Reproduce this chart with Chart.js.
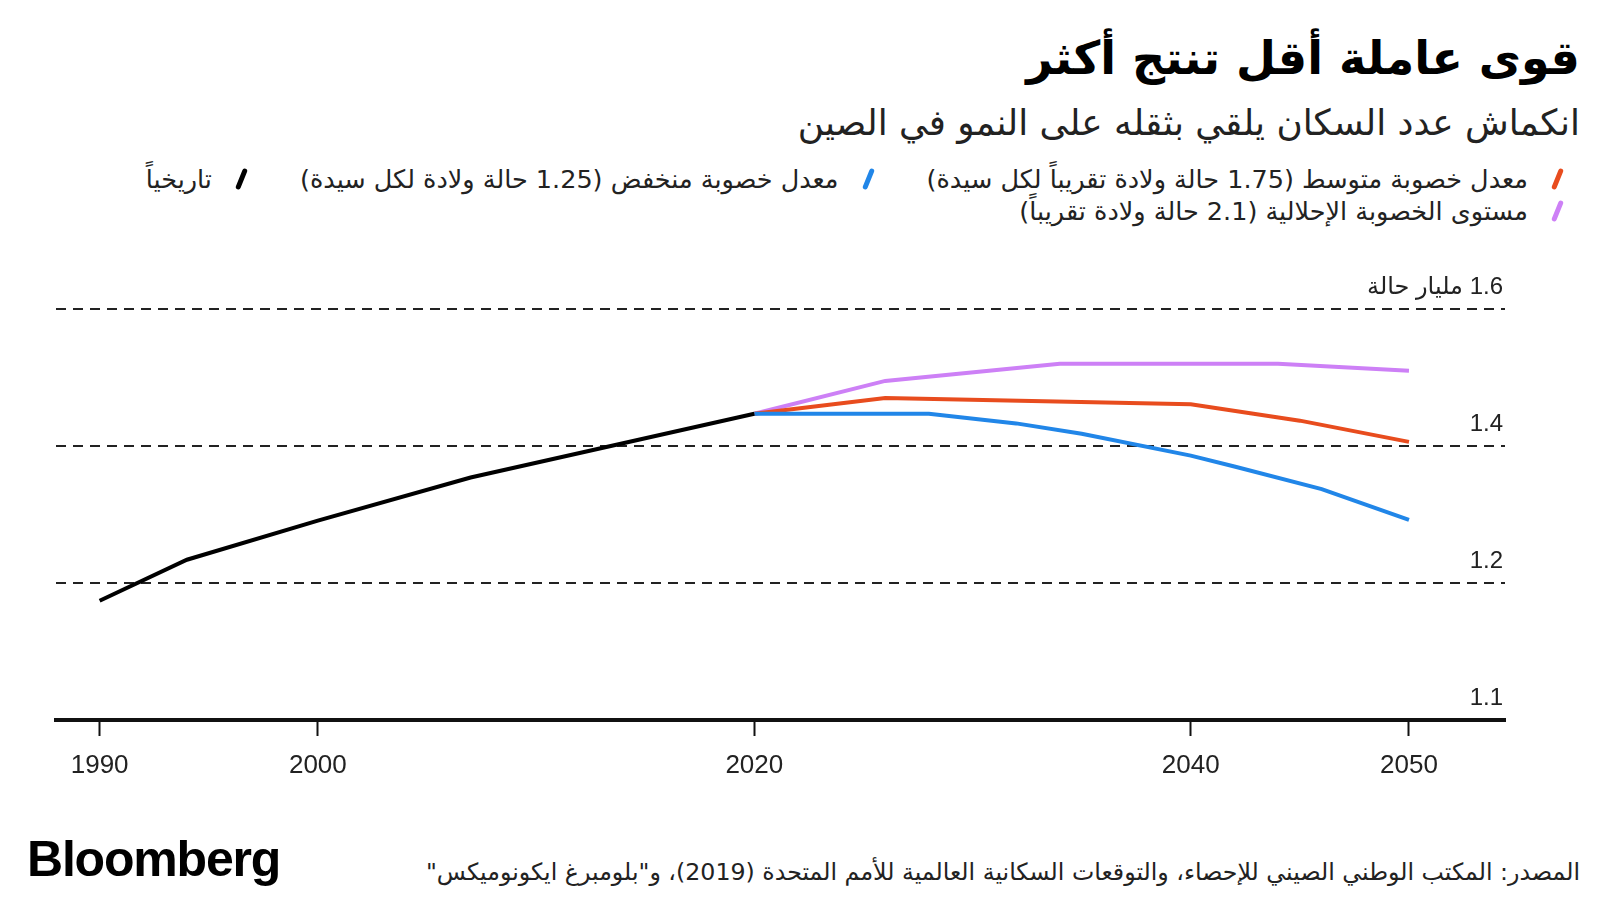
<!DOCTYPE html>
<html lang="ar">
<head>
<meta charset="utf-8">
<script src="https://cdn.jsdelivr.net/npm/chart.js@4.4.1/dist/chart.umd.min.js"></script>
<style>
  html, body { margin: 0; padding: 0; background: #fff; }
  #page { position: relative; width: 1600px; height: 900px; overflow: hidden; font-family: "DejaVu Sans", sans-serif; color: #111; }
  .title { position: absolute; right: 20px; top: 31px; font-weight: bold; font-size: 46px; direction: rtl; white-space: nowrap; color: #000; }
  .subtitle { position: absolute; right: 20px; top: 102px; font-size: 35.8px; direction: rtl; color: #222; white-space: nowrap; }
  .legend { position: absolute; right: 40px; display: flex; flex-direction: row; gap: 56px; direction: rtl; font-size: 25.5px; color: #222; white-space: nowrap; }
  .legend .item { display: flex; align-items: center; gap: 27px; }
  .legend i { display: inline-block; width: 5px; height: 22px; border-radius: 3px; transform: rotate(22deg); }
  #chartBox { position: absolute; left: 0; top: 240px; width: 1600px; height: 560px; }
  .brand { position: absolute; left: 27px; top: 830px; font-family: "Liberation Sans", Arial, sans-serif; font-weight: bold; font-size: 50px; letter-spacing: -1.2px; color: #000; }
  .source { position: absolute; right: 20px; top: 858px; font-size: 23.7px; direction: rtl; color: #222; white-space: nowrap; }
</style>
</head>
<body>
<div id="page">
  <div class="title">قوى عاملة أقل تنتج أكثر</div>
  <div class="subtitle">انكماش عدد السكان يلقي بثقله على النمو في الصين</div>
  <div class="legend" id="legendRow1" style="top:164px"></div>
  <div class="legend" id="legendRow2" style="top:196px"></div>
  <div id="chartBox"><canvas id="chart"></canvas></div>
  <div class="brand">Bloomberg</div>
  <div class="source">المصدر: المكتب الوطني الصيني للإحصاء، والتوقعات السكانية العالمية للأمم المتحدة (2019)، و"بلومبرغ ايكونوميكس"</div>
</div>
<script>
// بيانات السكان (مليار) مقروءة من الرسم
const yearsHist = [1990, 1994, 2000, 2007, 2020];
const valuesHist = [1.174, 1.234, 1.291, 1.354, 1.447];

const yearsMedium = [2020, 2026, 2040, 2045, 2050];
const valuesMedium = [1.447, 1.470, 1.461, 1.437, 1.406];

const yearsLow = [2020, 2028, 2032, 2035, 2040, 2042, 2046, 2050];
const valuesLow = [1.447, 1.447, 1.433, 1.418, 1.386, 1.370, 1.337, 1.292];

const yearsRepl = [2020, 2026, 2034, 2044, 2050];
const valuesRepl = [1.447, 1.495, 1.520, 1.520, 1.510];

const seriesNames = [
    'تاريخياً',
    'معدل خصوبة متوسط (1.75 حالة ولادة تقريباً لكل سيدة)',
    'معدل خصوبة منخفض (1.25 حالة ولادة لكل سيدة)',
    'مستوى الخصوبة الإحلالية (2.1 حالة ولادة تقريباً)'
];
const seriesColors = ['#000000', '#e84c1e', '#2186e8', '#cd80f6'];

const xTickValues = [1990, 2000, 2020, 2040, 2050];
const yTickValues = [1.0, 1.2, 1.4, 1.6];
const yTickLabels = ['1.1', '1.2', '1.4', '1.6 مليار حالة'];

// ================== LEGEND ==================
function legendItem(i) {
    const span = document.createElement('span');
    span.className = 'item';
    const mark = document.createElement('i');
    mark.style.background = seriesColors[i];
    span.appendChild(mark);
    span.appendChild(document.createTextNode(seriesNames[i]));
    return span;
}
[1, 2, 0].forEach(i => document.getElementById('legendRow1').appendChild(legendItem(i)));
document.getElementById('legendRow2').appendChild(legendItem(3));

// ================== CHART ==================
const toPoints = (xs, ys) => xs.map((x, i) => ({ x: x, y: ys[i] }));

const yLabelsPlugin = {
    id: 'yLabels',
    afterDraw(chart) {
        const ctx = chart.ctx;
        const area = chart.chartArea;
        const y = chart.scales.y;
        ctx.save();
        ctx.font = '24px "Liberation Sans", "DejaVu Sans", sans-serif';
        ctx.fillStyle = '#222';
        ctx.direction = 'rtl';
        ctx.textAlign = 'right';
        ctx.textBaseline = 'alphabetic';
        yTickValues.forEach((v, i) => {
            ctx.fillText(yTickLabels[i], area.right - 2, y.getPixelForValue(v) - 15);
        });
        ctx.restore();
    }
};

const lineStyle = {
    borderWidth: 4,
    pointRadius: 0,
    pointHoverRadius: 0,
    tension: 0,
    fill: false
};

new Chart(document.getElementById('chart'), {
    type: 'line',
    data: {
        datasets: [
            { ...lineStyle, label: seriesNames[0], data: toPoints(yearsHist, valuesHist), borderColor: seriesColors[0] },
            { ...lineStyle, label: seriesNames[2], data: toPoints(yearsLow, valuesLow), borderColor: seriesColors[2] },
            { ...lineStyle, label: seriesNames[1], data: toPoints(yearsMedium, valuesMedium), borderColor: seriesColors[1] },
            { ...lineStyle, label: seriesNames[3], data: toPoints(yearsRepl, valuesRepl), borderColor: seriesColors[3] }
        ]
    },
    options: {
        responsive: true,
        maintainAspectRatio: false,
        animation: false,
        layout: { padding: { left: 56, right: 95, top: 69, bottom: 0 } },
        plugins: {
            legend: { display: false },
            tooltip: { enabled: false }
        },
        scales: {
            x: {
                type: 'linear',
                min: 1988,
                max: 2054.4,
                afterBuildTicks: s => { s.ticks = xTickValues.map(v => ({ value: v })); },
                afterFit: s => { s.height = 80; },
                ticks: {
                    autoSkip: false,
                    maxRotation: 0,
                    padding: 14,
                    color: '#222',
                    font: { family: '"Liberation Sans", Arial, sans-serif', size: 26 },
                    callback: v => String(v)
                },
                grid: {
                    drawOnChartArea: false,
                    drawTicks: true,
                    tickLength: 16,
                    tickWidth: 2,
                    tickColor: '#111'
                },
                border: { display: true, color: '#111', width: 4 }
            },
            y: {
                min: 1.0,
                max: 1.6,
                afterBuildTicks: s => { s.ticks = yTickValues.map(v => ({ value: v })); },
                afterFit: s => { s.width = 0; },
                ticks: { display: false },
                grid: {
                    drawTicks: false,
                    lineWidth: 2,
                    color: c => (c.index === 0 ? 'rgba(0,0,0,0)' : '#222')
                },
                border: { display: false, dash: [10, 7] }
            }
        }
    },
    plugins: [yLabelsPlugin]
});
</script>
</body>
</html>
